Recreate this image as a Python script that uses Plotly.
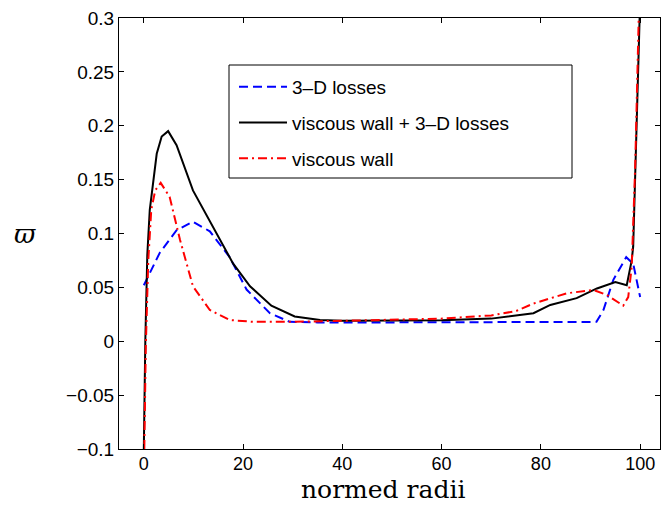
import plotly.graph_objects as go

# ---- data ----
x_3d = [0, 3.2, 6.6, 9.9, 13.3, 17.3, 20.7, 25.4, 29.4, 35, 50, 70, 91.2, 92.6, 94.6, 97.2, 98.6, 100]
y_3d = [0.052, 0.082, 0.103, 0.111, 0.102, 0.078, 0.048, 0.026, 0.018, 0.0175, 0.0175, 0.0175, 0.018, 0.029, 0.057, 0.078, 0.072, 0.041]

x_both = [0, 0.3, 0.7, 1.2, 2.6, 3.6, 4.9, 6.6, 9.9, 14, 18, 21.4, 25.7, 30.4, 35.5, 40, 50, 60, 70, 74.4, 78.5, 81.9, 87.2, 91.3, 95, 97.3, 98.3, 98.6, 99.2, 99.9, 100.2]
y_both = [-0.1, 0.0, 0.08, 0.122, 0.174, 0.19, 0.195, 0.182, 0.14, 0.106, 0.072, 0.051, 0.033, 0.023, 0.0197, 0.019, 0.019, 0.0195, 0.021, 0.0234, 0.026, 0.0337, 0.040, 0.049, 0.055, 0.052, 0.075, 0.088, 0.193, 0.301, 0.35]

x_wall = [0.1, 0.4, 0.9, 1.5, 2.3, 3.4, 5.2, 7.3, 9.9, 13.3, 17.3, 22, 30, 40, 50, 60, 70, 75, 78.5, 85.2, 90.6, 93.3, 96.6, 97.6, 98.3, 99, 99.7, 100]
y_wall = [-0.1, -0.005, 0.075, 0.122, 0.14, 0.147, 0.134, 0.094, 0.051, 0.029, 0.0197, 0.018, 0.018, 0.019, 0.02, 0.021, 0.024, 0.028, 0.035, 0.0445, 0.0476, 0.043, 0.033, 0.041, 0.069, 0.162, 0.298, 0.35]

names = ["3–D losses", "viscous wall + 3–D losses", "viscous wall"]

y_ticks = [-0.1, -0.05, 0, 0.05, 0.1, 0.15, 0.2, 0.25, 0.3]
y_tick_text = ["−0.1", "−0.05", "0", "0.05", "0.1", "0.15", "0.2", "0.25", "0.3"]
x_ticks = [0, 20, 40, 60, 80, 100]

fig = go.Figure()
fig.add_trace(go.Scatter(x=x_3d, y=y_3d, mode="lines", name=names[0], legendgroup="a",
                         line=dict(color="#0000ff", width=2, dash="9px,5px")))
fig.add_trace(go.Scatter(x=x_both, y=y_both, mode="lines", name=names[1], legendgroup="b",
                         line=dict(color="#000000", width=2)))
fig.add_trace(go.Scatter(x=x_wall, y=y_wall, mode="lines", name=names[2], legendgroup="c",
                         line=dict(color="#ff0000", width=2, dash="9px,4px,2px,4px")))

W, H = 661, 506
L, R, T, B = 119, 1, 18, 57
pw, ph = W - L - R, H - T - B

def px_x(p):
    return (p - L) / pw

def px_y(p):
    return (H - B - p) / ph

axis_common = dict(showgrid=False, zeroline=False, showline=True, linecolor="black", linewidth=1,
                   mirror="ticks", ticks="inside", ticklen=5, tickcolor="black")

fig.update_layout(
    width=W, height=H, margin=dict(l=L, r=R, t=T, b=B),
    plot_bgcolor="white", paper_bgcolor="white",
    xaxis=dict(range=[-5, 104], tickvals=x_ticks, ticklabelstandoff=-2,
               tickfont=dict(family="Liberation Sans, Arial", size=18, color="black"), **axis_common),
    yaxis=dict(range=[-0.1, 0.3], tickvals=y_ticks, ticktext=y_tick_text,
               tickfont=dict(family="Liberation Sans, Arial", size=19, color="black"), **axis_common),
    showlegend=True,
    legend=dict(x=px_x(234), y=px_y(68), xanchor="left", yanchor="top",
                bgcolor="rgba(0,0,0,0)", borderwidth=0, traceorder="grouped", tracegroupgap=8,
                itemwidth=48,
                font=dict(family="Liberation Sans, Arial", size=19, color="black")),
    shapes=[dict(type="rect", xref="paper", yref="paper",
                 x0=px_x(229), x1=px_x(572), y0=px_y(178), y1=px_y(65),
                 line=dict(color="black", width=1), fillcolor="rgba(0,0,0,0)")],
    annotations=[
        dict(text="normed radii", xref="paper", yref="paper", x=px_x(383), y=px_y(506),
             xanchor="center", yanchor="bottom", showarrow=False,
             font=dict(family="DejaVu Serif", size=25, color="black")),
        dict(text="<i>ϖ</i>", xref="paper", yref="paper", x=px_x(25), y=px_y(234),
             xanchor="center", yanchor="middle", showarrow=False,
             font=dict(family="DejaVu Serif", size=26, color="black")),
    ],
)

fig.write_html("out.html")
